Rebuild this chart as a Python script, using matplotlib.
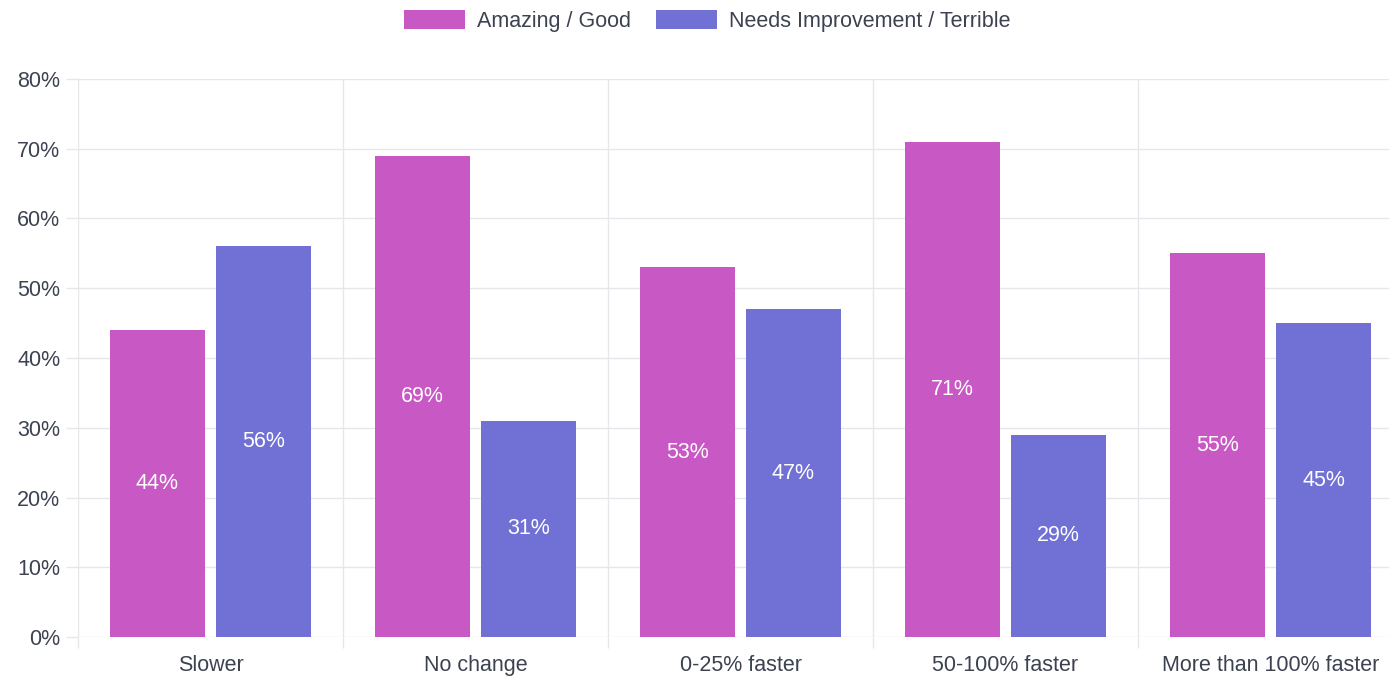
import matplotlib
matplotlib.use("Agg")
import matplotlib.pyplot as plt
import numpy as np

categories = ["Slower", "No change", "0-25% faster", "50-100% faster", "More than 100% faster"]
good = [44, 69, 53, 71, 55]
bad = [56, 31, 47, 29, 45]
series_names = ["Amazing / Good", "Needs Improvement / Terrible"]
yticks = [0, 10, 20, 30, 40, 50, 60, 70, 80]

plt.rcParams['font.family'] = ['Liberation Sans', 'DejaVu Sans']
PINK = "#C858C4"
BLUE = "#7170D4"
GRID = "#E6E7EB"
TEXT = "#3D4251"
FS = 15.5

W, H = 1389, 679
fig = plt.figure(figsize=(W / 100, H / 100), dpi=100)
ax = fig.add_axes([78 / W, (H - 637) / H, (1403 - 78) / W, (637 - 79) / H])

x = np.arange(len(categories))
bw = 0.36
off = 0.2
b1 = ax.bar(x - off, good, bw, color=PINK, label=series_names[0], zorder=3)
b2 = ax.bar(x + off, bad, bw, color=BLUE, label=series_names[1], zorder=3)

for bars, vals in ((b1, good), (b2, bad)):
    for r, v in zip(bars, vals):
        ax.text(r.get_x() + r.get_width() / 2, v / 2, f"{v}%", ha="center", va="center",
                color="white", fontsize=FS, zorder=4)

ax.set_xlim(-0.5, len(categories) - 0.5)
ax.set_ylim(0, 80)
ax.set_yticks(yticks)
ax.set_yticklabels([f"{t}%" for t in yticks])
ax.set_xticks(x)
ax.set_xticklabels(categories)
ax.set_xticks(np.arange(len(categories) + 1) - 0.5, minor=True)

ax.tick_params(axis="y", length=8.6, width=1, color=GRID, pad=4, labelsize=FS, labelcolor=TEXT)
ax.tick_params(axis="x", which="major", length=0, pad=13, labelsize=FS, labelcolor=TEXT)
ax.tick_params(axis="x", which="minor", length=8, width=1, color=GRID)

ax.grid(axis="y", which="major", color=GRID, linewidth=1, zorder=0)
ax.grid(axis="x", which="minor", color=GRID, linewidth=1, zorder=0)
for s in ax.spines.values():
    s.set_visible(False)

leg = fig.legend(handles=[b1, b2], labels=series_names, loc="center",
                 bbox_to_anchor=(707 / W, 1 - 21 / H), ncol=2, frameon=False,
                 fontsize=FS, handlelength=2.85, handleheight=0.95,
                 handletextpad=0.55, columnspacing=1.15, borderpad=0)
for t in leg.get_texts():
    t.set_color(TEXT)

fig.savefig("out.png", dpi=100)
